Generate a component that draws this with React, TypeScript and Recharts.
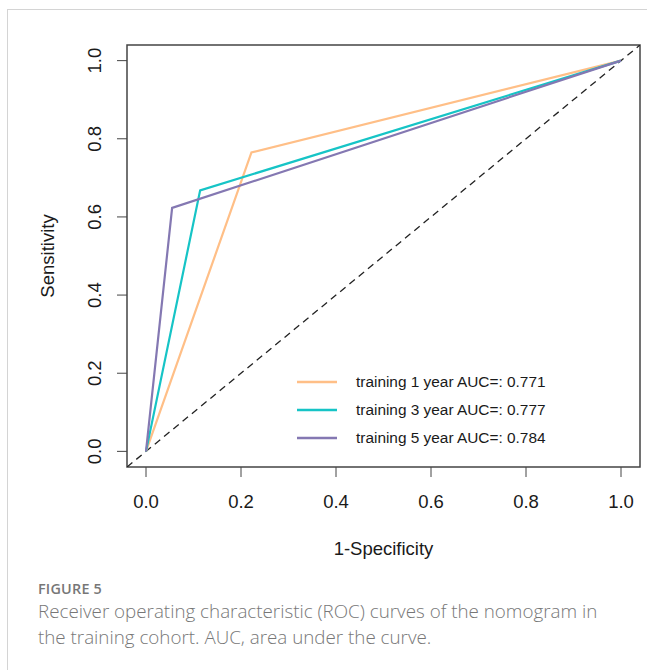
import React from "react";
import {
  LineChart,
  Line,
  XAxis,
  YAxis,
  Legend,
  ReferenceArea,
  Label,
} from "recharts";

// ROC curve points (1-specificity, sensitivity)
const fpr1 = [0, 0.222, 1];
const tpr1 = [0, 0.765, 1];
const fpr3 = [0, 0.114, 1];
const tpr3 = [0, 0.668, 1];
const fpr5 = [0, 0.055, 1];
const tpr5 = [0, 0.623, 1];

const seriesNames = [
  "training 1 year AUC=: 0.771",
  "training 3 year AUC=: 0.777",
  "training 5 year AUC=: 0.784",
];
const seriesColors = ["#FFBF87", "#16C4C6", "#8478B2"];

const axisTicks = [0, 0.2, 0.4, 0.6, 0.8, 1.0];
const axisDomain = [-0.04, 1.04];
const diagonal = [-0.04, 1.04];

const toPoints = (xs: number[], ys: number[]) =>
  xs.map((x, i) => ({ x, y: ys[i] }));

const curves = [
  toPoints(fpr1, tpr1),
  toPoints(fpr3, tpr3),
  toPoints(fpr5, tpr5),
];
const diagPoints = toPoints(diagonal, diagonal);

const FONT = "'Liberation Sans', Arial, sans-serif";

const XTick = (props: any) => {
  const { x, y, payload } = props;
  return (
    <text x={x} y={y + 29} textAnchor="middle" fontSize={18.5} fontFamily={FONT} fill="#1a1a1a">
      {Number(payload.value).toFixed(1)}
    </text>
  );
};

const YTick = (props: any) => {
  const { x, y, payload } = props;
  const bx = x - 13.5;
  return (
    <text
      x={bx}
      y={y}
      transform={`rotate(-90, ${bx}, ${y})`}
      textAnchor="middle"
      fontSize={18.5}
      fontFamily={FONT}
      fill="#1a1a1a"
    >
      {Number(payload.value).toFixed(1)}
    </text>
  );
};

const XTitle = (props: any) => {
  const { x, y, width, height } = props.viewBox;
  return (
    <text x={x + width / 2} y={y + height + 28} textAnchor="middle" fontSize={18.5} fontFamily={FONT} fill="#1a1a1a">
      1-Specificity
    </text>
  );
};

const YTitle = (props: any) => {
  const { x, y, height } = props.viewBox;
  const cx = x - 13.5;
  const cy = y + height / 2;
  return (
    <text
      x={cx}
      y={cy}
      transform={`rotate(-90, ${cx}, ${cy})`}
      textAnchor="middle"
      fontSize={18.5}
      fontFamily={FONT}
      fill="#1a1a1a"
    >
      Sensitivity
    </text>
  );
};

const LegendBox = (props: any) => {
  const items = (props.payload || []).filter((p: any) => p.type !== "none");
  return (
    <div style={{ fontFamily: FONT, fontSize: 15.4, color: "#1a1a1a" }}>
      {items.map((p: any) => (
        <div key={p.value} style={{ display: "flex", alignItems: "center", height: 28 }}>
          <svg width={40} height={4} style={{ marginRight: 19 }}>
            <line x1={0} y1={2} x2={40} y2={2} stroke={p.color} strokeWidth={2.5} />
          </svg>
          <span>{p.value}</span>
        </div>
      ))}
    </div>
  );
};

export default function App() {
  return (
    <div style={{ position: "fixed", left: 0, top: 0, width: 647, height: 670, background: "#fff" }}>
      <div
        style={{
          position: "absolute",
          left: 7,
          top: 9,
          width: 700,
          height: 700,
          borderTop: "1px solid #d4d4d4",
          borderLeft: "1px solid #d4d4d4",
        }}
      />
      <div style={{ position: "absolute", left: 0, top: 0 }}>
        <LineChart
          width={647}
          height={670}
          margin={{ top: 45, right: 7, left: 67, bottom: 143 }}
        >
          <XAxis
            type="number"
            dataKey="x"
            domain={axisDomain}
            ticks={axisTicks}
            axisLine={false}
            tickSize={10}
            tickLine={{ stroke: "#444" }}
            tick={<XTick />}
            height={60}
            allowDataOverflow
          >
            <Label content={<XTitle />} />
          </XAxis>
          <YAxis
            type="number"
            dataKey="y"
            domain={axisDomain}
            ticks={axisTicks}
            axisLine={false}
            tickSize={10}
            tickLine={{ stroke: "#444" }}
            tick={<YTick />}
            width={60}
            allowDataOverflow
          >
            <Label content={<YTitle />} />
          </YAxis>
          <ReferenceArea
            x1={axisDomain[0]}
            x2={axisDomain[1]}
            y1={axisDomain[0]}
            y2={axisDomain[1]}
            fill="none"
            stroke="#444"
            strokeWidth={1.5}
          />
          <Line
            data={diagPoints}
            dataKey="y"
            stroke="#222"
            strokeWidth={1.3}
            strokeDasharray="7 5"
            dot={false}
            legendType="none"
            isAnimationActive={false}
          />
          {curves.map((pts, i) => (
            <Line
              key={seriesNames[i]}
              data={pts}
              dataKey="y"
              name={seriesNames[i]}
              stroke={seriesColors[i]}
              strokeWidth={2.2}
              dot={false}
              isAnimationActive={false}
            />
          ))}
          <Legend
            layout="vertical"
            align="center"
            verticalAlign="middle"
            content={<LegendBox />}
            wrapperStyle={{ position: "absolute", left: 297, top: 368, width: 300 }}
          />
        </LineChart>
      </div>
      <div
        style={{
          position: "absolute",
          left: 38,
          top: 579,
          width: 590,
          fontFamily: "'Open Sans', sans-serif",
          color: "#777",
        }}
      >
        <div style={{ fontSize: 14.4, fontWeight: 600, letterSpacing: 0.2, lineHeight: "19px" }}>FIGURE 5</div>
        <div style={{ fontSize: 18.8, fontWeight: 300, lineHeight: "26px" }}>
          Receiver operating characteristic (ROC) curves of the nomogram in the training cohort. AUC, area under the curve.
        </div>
      </div>
    </div>
  );
}
